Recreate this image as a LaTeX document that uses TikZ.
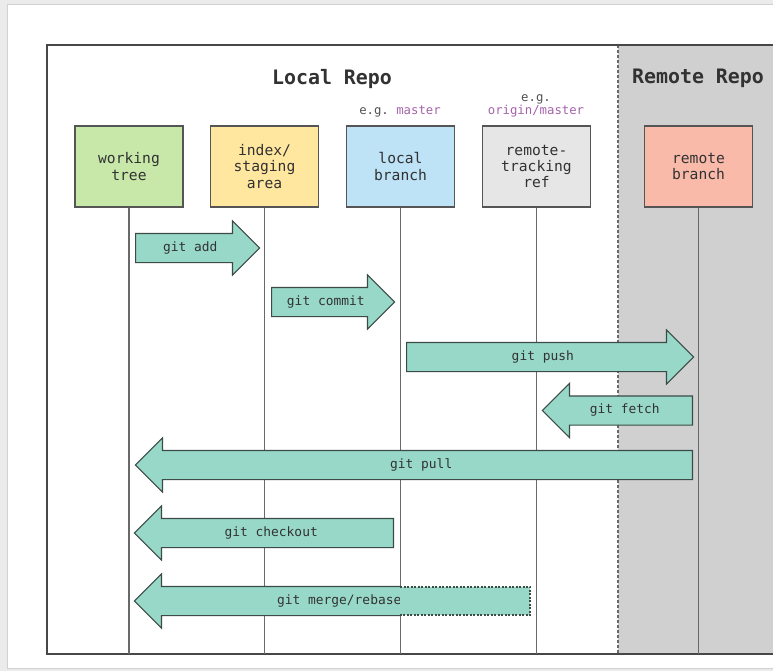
\documentclass[tikz,border=0pt]{standalone}
\usepackage{fontspec}
\setmonofont{DejaVu Sans Mono}
\usepackage{xcolor}
\usetikzlibrary{shapes.arrows,positioning,calc}
\newlength\px
\setlength\px{0.3mm}
\definecolor{txt}{RGB}{50,50,50}
\definecolor{boxline}{RGB}{85,85,85}
\definecolor{lifeline}{RGB}{105,105,105}
\definecolor{wtfill}{RGB}{200,232,170}
\definecolor{ixfill}{RGB}{255,231,160}
\definecolor{lbfill}{RGB}{190,226,246}
\definecolor{rtfill}{RGB}{230,230,230}
\definecolor{rbfill}{RGB}{250,186,170}
\definecolor{arrfill}{RGB}{152,216,201}
\definecolor{arrline}{RGB}{60,75,70}
\definecolor{remfill}{RGB}{208,208,208}
\definecolor{refname}{RGB}{165,100,170}

\begin{document}
\begin{tikzpicture}[x=0.3mm, y=-0.3mm,
  box/.style={draw=boxline, line width=1.4\px, minimum width=108\px, minimum height=81\px, align=center, inner sep=0pt, text=txt, font=\ttfamily\fontsize{12.5}{13.8}\selectfont},
  cmd/.style={single arrow, draw=arrline, fill=arrfill, line width=1.1\px, anchor=tail, text height=2.5mm, text depth=0.5mm, inner ysep=2.7mm, inner xsep=2pt, single arrow head extend=12.5\px, text=txt, font=\ttfamily\fontsize{11}{13}\selectfont},
  lcmd/.style={cmd, shape border rotate=180},
  life/.style={draw=lifeline, line width=1.7\px},
  title/.style={text=txt, font=\ttfamily\bfseries\fontsize{17}{20}\selectfont},
  eg/.style={align=center, text=txt!85, font=\ttfamily\fontsize{10.5}{10.5}\selectfont},
]
\useasboundingbox (0,0) rectangle (773,671);
\clip (0,0) rectangle (773,671);
\fill[black!8] (0,0) rectangle (773,671);
\filldraw[fill=white, draw=black!18] (7,4) rectangle (800,668);

\fill[remfill] (618,45) rectangle (800,654);
\draw[lifeline, line width=1.6\px, dash pattern=on 0.9mm off 0.6mm] (618,45) -- (618,654);
\draw[black!72, line width=2\px] (47,45) rectangle (800,654);
\coordinate (bot) at (0,654);

\node[title] (local) at (332,79) {Local Repo};
\node[title] (remote) at (698,78) {Remote Repo};
\node[eg] (egmaster) at (400,112) {e.g. \textcolor{refname}{master}};
\node[eg] (egorigin) at (536,106) {e.g.\\\textcolor{refname}{origin/master}};

\node[box, fill=wtfill] (wtree) at (129,166.5) {working\\tree};
\node[box, fill=ixfill] (index) at (264.5,166.5) {index/\\staging\\area};
\node[box, fill=lbfill] (lbranch) at (400.5,166.5) {local\\branch};
\node[box, fill=rtfill] (rtrack) at (536.5,166.5) {remote-\\tracking\\ref};
\node[box, fill=rbfill] (rbranch) at (698.5,166.5) {remote\\branch};

\foreach \n in {wtree,index,lbranch,rtrack,rbranch}
  \draw[life] (\n.south) -- (\n.south |- bot);

\node[cmd, minimum height=124\px] (add) at (135,248) {git add};
\node[cmd, minimum height=123\px] (commit) at (271,302) {git commit};
\node[cmd, minimum height=287\px] (push) at (406,357) {git push};
\node[lcmd, minimum height=150\px] (fetch) at (693,410.5) {git fetch};
\node[lcmd, minimum height=557\px] (pull) at (693,465) {git pull};
\node[lcmd, minimum height=259\px] (checkout) at (394,533) {git checkout};
\node[lcmd, minimum height=395\px] (merge) at (530,601) {git merge/rebase};

\node[minimum width=129.5\px, minimum height=28\px, inner sep=0pt] (mergetail) at (465.25,601) {};
\fill[white] ([xshift=1\px,yshift=2\px]mergetail.north west) rectangle ([xshift=2.5\px,yshift=-2\px]mergetail.south east);
\fill[arrfill] (mergetail.north west) rectangle (mergetail.south east);
\draw[arrline, line width=1.5\px, dash pattern=on 2\px off 1.5\px] (mergetail.north west) -- (mergetail.north east) -- (mergetail.south east) -- (mergetail.south west);
\end{tikzpicture}
\end{document}
